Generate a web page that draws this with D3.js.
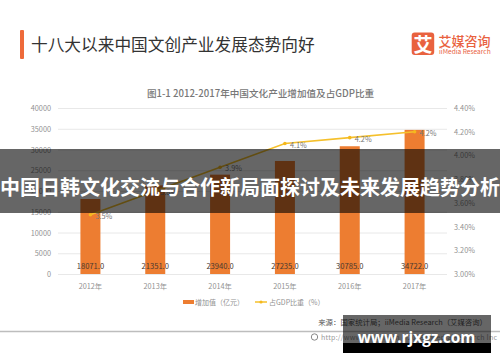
<!DOCTYPE html>
<html><head><meta charset="utf-8">
<script src="https://cdn.jsdelivr.net/npm/d3@7/dist/d3.min.js"></script>
<style>html,body{margin:0;padding:0;background:#fff}svg{display:block;font-family:"Noto Sans CJK SC","Noto Sans",sans-serif}</style>
</head><body><svg id="c" width="500" height="362"></svg>
<script>
const years = ["2012年","2013年","2014年","2015年","2016年","2017年"];
const addedValue = [18071.0,21351.0,23940.0,27235.0,30785.0,34722.0];
const gdpShare = [3.5,3.7,3.9,4.1,4.15,4.2];
const gdpLabels = ["3.5%","3.8%","3.9%","4.1%","4.2%","4.2%"];
const leftTicks = [0,5000,10000,15000,20000,25000,30000,35000,40000];
const rightTicks = [3.0,3.2,3.4,3.6,3.8,4.0,4.2,4.4];
const svg = d3.select("#c");
const W=500,H=362;
const x = d3.scaleBand().domain(years).range([58,447]);
const yL = d3.scaleLinear().domain([0,40000]).range([274,108]);
const yR = d3.scaleLinear().domain([3.0,4.4]).range([274,108]);
const grey="#929292";
const text=(px,py,s,size,fill,anchor,extra)=>{const t=svg.append("text").attr("x",px).attr("y",py).text(s)
 .attr("font-size",size).attr("fill",fill).attr("text-anchor",anchor||"start").attr("dominant-baseline","central");
 if(extra)extra(t);return t;};
// header
svg.append("rect").attr("x",20).attr("y",30).attr("width",4).attr("height",29).attr("rx",1).attr("fill","#ee6a3a");
text(31,43.5,"十八大以来中国文创产业发展态势向好",16.7,"#333");
// logo
svg.append("rect").attr("x",411.7).attr("y",32.5).attr("width",22.5).attr("height",22.5).attr("rx",3).attr("fill","#e9623f");
text(423,43.5,"艾",19,"#fff","middle",t=>t.attr("font-weight",700));
text(438.5,40.5,"艾媒咨询",13,"#e9623f","start",t=>t.attr("font-weight",500));
text(439,51,"iiMedia Research",6.6,"#e9623f","start");
// chart title
text(260.5,93,"图1-1 2012-2017年中国文化产业增加值及占GDP比重",9.6,"#777","middle",t=>t.attr("font-weight",500));
// grid
svg.append("g").selectAll("line").data(leftTicks).join("line")
 .attr("x1",58).attr("x2",447).attr("y1",d=>yL(d)+.5).attr("y2",d=>yL(d)+.5)
 .attr("stroke","#e8e8e8").attr("stroke-width",1);
// axes labels
leftTicks.forEach(d=>text(51,yL(d),d,7.3,grey,"end"));
rightTicks.forEach(d=>text(454,yR(d),d.toFixed(2)+"%",7.3,grey,"start"));
years.forEach(d=>text(x(d)+x.bandwidth()/2,285.5,d,7.3,grey,"middle"));
// bars
const bw=20;
svg.append("g").selectAll("rect").data(addedValue).join("rect")
 .attr("x",(d,i)=>x(years[i])+x.bandwidth()/2-bw/2).attr("width",bw)
 .attr("y",d=>yL(d)).attr("height",d=>yL(0)-yL(d)).attr("fill","#ed7d31");
addedValue.forEach((d,i)=>text(x(years[i])+x.bandwidth()/2,265.5,d.toFixed(1),7.6,"#4a3a30","middle"));
// line
const ly=d3.line().x((d,i)=>x(years[i])+x.bandwidth()/2).y(d=>yR(d));
svg.append("path").attr("d",ly(gdpShare)).attr("fill","none").attr("stroke","#f5c02c").attr("stroke-width",1.6);
svg.append("g").selectAll("circle").data(gdpShare).join("circle")
 .attr("cx",(d,i)=>x(years[i])+x.bandwidth()/2).attr("cy",d=>yR(d)).attr("r",1.8).attr("fill","#f5b81c");
gdpShare.forEach((d,i)=>text(x(years[i])+x.bandwidth()/2+5,yR(d)+1,gdpLabels[i],7.3,"#777"));
// legend
svg.append("rect").attr("x",183).attr("y",300).attr("width",11).attr("height",4).attr("fill","#ed7d31");
text(195,302,"增加值（亿元）",7,grey);
svg.append("line").attr("x1",255).attr("x2",267).attr("y1",302).attr("y2",302).attr("stroke","#f5c02c").attr("stroke-width",1.5);
svg.append("circle").attr("cx",261).attr("cy",302).attr("r",1.6).attr("fill","#f5b81c");
text(269,302,"占GDP比重（%）",7,grey);
// source & footer
text(487,321,"来源：国家统计局；iiMedia Research（艾媒咨询）",7.4,"#555","end");
svg.append("line").attr("x1",0).attr("x2",500).attr("y1",331.5).attr("y2",331.5).attr("stroke","#bdbdbd").attr("stroke-width",1.5);
svg.append("circle").attr("cx",314.5).attr("cy",337).attr("r",3.2).attr("fill","none").attr("stroke","#888");
text(321,337,"http://www.iimedia.cn  ©2018 iiMedia Research Inc",7,"#999",null,t=>t.attr("textLength",176));
// overlay band
svg.append("rect").attr("x",0).attr("y",149).attr("width",W).attr("height",64).attr("fill","#000").attr("opacity",.6);
text(250,186.5,"中国日韩文化交流与合作新局面探讨及未来发展趋势分析",20,"#fff","middle",t=>t.attr("font-weight",700));
// watermark
svg.append("rect").attr("x",343).attr("y",315).attr("width",148).attr("height",28).attr("fill","#000").attr("opacity",.6);
svg.append("rect").attr("x",343).attr("y",343).attr("width",148).attr("height",10).attr("fill","#000");
text(416.5,337,"www.rjxgz.com",15.4,"#fff","middle",t=>t.attr("font-weight",700).attr("font-family","'Open Sans',sans-serif"));
</script></body></html>
